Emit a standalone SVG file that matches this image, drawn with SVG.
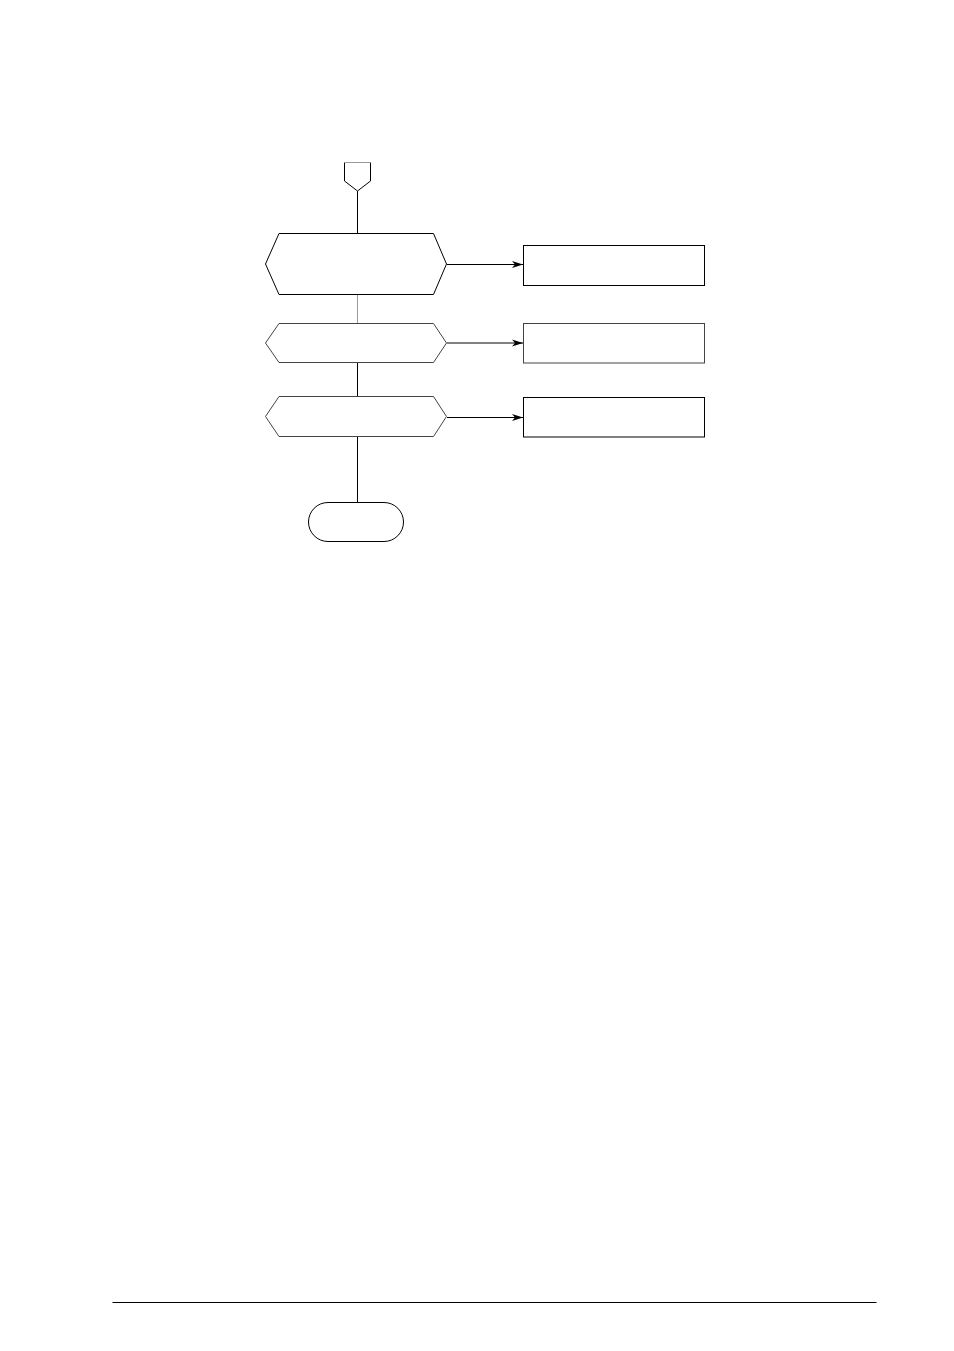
<svg xmlns="http://www.w3.org/2000/svg" width="954" height="1351" viewBox="0 0 954 1351">
<style>
.n{fill:#fff;stroke:#000;stroke-width:1}
.g{fill:#fff;stroke:#444;stroke-width:1}
.c{fill:none;stroke:#000;stroke-width:1}
.cg{fill:none;stroke:#999;stroke-width:1}
</style>
<defs>
<marker id="ah" markerWidth="12" markerHeight="8" refX="11" refY="4" orient="auto" markerUnits="userSpaceOnUse">
<path d="M0,0.5 L11,4 L0,7.5 L3,4 Z" fill="#000"/>
</marker>
</defs>
<rect width="954" height="1351" fill="#fff"/>
<g id="connectors">
<line class="c" x1="357.5" y1="191" x2="357.5" y2="233.5"/>
<line class="cg" x1="357.5" y1="294.5" x2="357.5" y2="323.5"/>
<line class="c" x1="357.5" y1="362.5" x2="357.5" y2="396.5"/>
<line class="c" x1="357.5" y1="436.5" x2="357.5" y2="502.5"/>
<line class="c" x1="447" y1="264.5" x2="523" y2="264.5" marker-end="url(#ah)"/>
<line class="c" x1="447" y1="343" x2="523" y2="343" stroke="#333" marker-end="url(#ah)"/>
<line class="c" x1="447" y1="417.5" x2="523" y2="417.5" marker-end="url(#ah)"/>
</g>
<g id="offpage">
<path class="n" d="M344.5,162.5 L344.5,181 L357.5,191 L370.5,181 L370.5,162.5"/>
<line class="cg" x1="344.5" y1="162.5" x2="370.5" y2="162.5"/>
</g>
<g id="hex1"><polygon class="n" points="279,233.5 433.5,233.5 446.5,264 433.5,294.5 279,294.5 265.5,264"/></g>
<g id="hex2"><polygon class="g" points="279,323.5 433.5,323.5 446.5,343 433.5,362.5 279,362.5 265.5,343"/></g>
<g id="hex3"><polygon class="g" points="279,396.5 433.5,396.5 446.5,416.5 433.5,436.5 279,436.5 265.5,416.5"/></g>
<g id="end"><rect class="n" x="308.5" y="502.5" width="95" height="39" rx="19.5" ry="19.5"/></g>
<g id="box1"><rect class="n" x="523.5" y="245.5" width="181" height="40"/></g>
<g id="box2"><rect class="g" x="523.5" y="323.5" width="181" height="39.5"/></g>
<g id="box3"><rect class="n" x="523.5" y="397.5" width="181" height="39.5"/></g>
<line x1="112.5" y1="1302.5" x2="876.5" y2="1302.5" stroke="#000" stroke-width="1"/>
</svg>
